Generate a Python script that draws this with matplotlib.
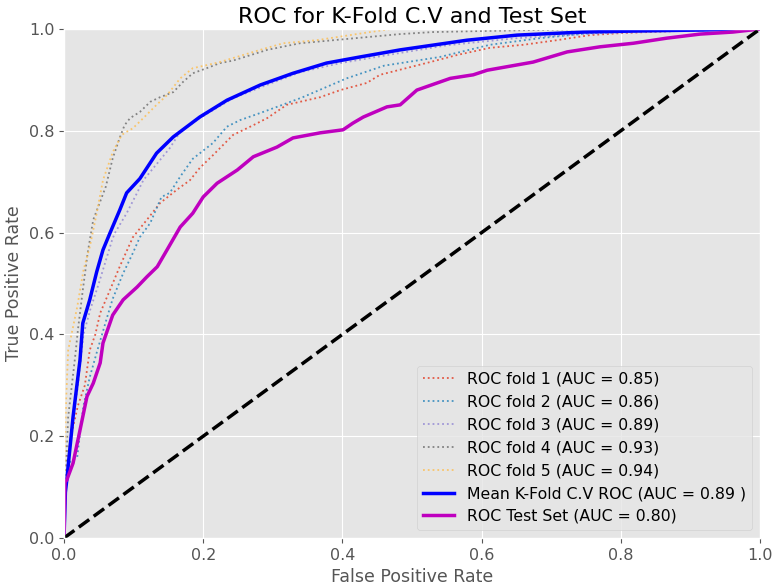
import matplotlib
matplotlib.use("Agg")
import matplotlib.pyplot as plt

plt.style.use("ggplot")

# Fold 1
f1_fpr = [0, 0.001, 0.006, 0.013, 0.020, 0.030, 0.033, 0.037, 0.045, 0.052, 0.066, 0.080, 0.099, 0.119,
          0.138, 0.162, 0.181, 0.195, 0.214, 0.243, 0.272, 0.292, 0.320, 0.368, 0.397, 0.435, 0.454,
          0.526, 0.565, 0.612, 0.660, 0.708, 0.756, 0.800, 0.900, 1.0]
f1_tpr = [0, 0.05, 0.167, 0.218, 0.26, 0.30, 0.33, 0.369, 0.40, 0.442, 0.487, 0.533, 0.591, 0.625,
          0.658, 0.684, 0.703, 0.727, 0.752, 0.792, 0.811, 0.825, 0.851, 0.866, 0.880, 0.894, 0.910,
          0.935, 0.949, 0.963, 0.969, 0.978, 0.988, 0.992, 0.997, 1.0]
# Fold 2
f2_fpr = [0, 0.001, 0.006, 0.019, 0.023, 0.028, 0.037, 0.048, 0.062, 0.070, 0.085, 0.099, 0.109, 0.124,
          0.140, 0.152, 0.167, 0.185, 0.214, 0.234, 0.253, 0.282, 0.306, 0.343, 0.377, 0.406, 0.460,
          0.540, 0.612, 0.684, 0.756, 0.850, 1.0]
f2_tpr = [0, 0.08, 0.147, 0.159, 0.206, 0.26, 0.316, 0.369, 0.434, 0.47, 0.520, 0.560, 0.591, 0.619,
          0.670, 0.678, 0.71, 0.745, 0.776, 0.808, 0.821, 0.835, 0.847, 0.866, 0.886, 0.903, 0.928,
          0.945, 0.969, 0.982, 0.992, 0.996, 1.0]
# Fold 3
f3_fpr = [0, 0.001, 0.010, 0.020, 0.028, 0.038, 0.050, 0.069, 0.073, 0.090, 0.105, 0.114, 0.140, 0.152,
          0.167, 0.195, 0.243, 0.291, 0.339, 0.397, 0.470, 0.550, 0.650, 0.750, 0.850, 1.0]
f3_tpr = [0, 0.10, 0.20, 0.30, 0.40, 0.45, 0.50, 0.585, 0.599, 0.638, 0.678, 0.703, 0.746, 0.766,
          0.798, 0.825, 0.864, 0.890, 0.915, 0.933, 0.950, 0.968, 0.982, 0.990, 0.995, 1.0]
# Fold 4
f4_fpr = [0, 0.001, 0.004, 0.006, 0.016, 0.020, 0.027, 0.034, 0.042, 0.060, 0.070, 0.080, 0.087, 0.095,
          0.109, 0.124, 0.138, 0.157, 0.171, 0.185, 0.205, 0.224, 0.243, 0.292, 0.339, 0.387, 0.435,
          0.483, 0.530, 0.600, 0.750, 1.0]
f4_tpr = [0, 0.10, 0.173, 0.238, 0.356, 0.409, 0.487, 0.560, 0.625, 0.69, 0.746, 0.786, 0.811, 0.825,
          0.837, 0.857, 0.866, 0.876, 0.896, 0.913, 0.923, 0.933, 0.938, 0.959, 0.972, 0.978, 0.984,
          0.990, 0.994, 0.996, 1.0, 1.0]
# Fold 5
f5_fpr = [0, 0.001, 0.003, 0.006, 0.019, 0.028, 0.037, 0.047, 0.056, 0.070, 0.083, 0.090, 0.099, 0.114,
          0.133, 0.148, 0.167, 0.185, 0.205, 0.224, 0.243, 0.282, 0.315, 0.363, 0.411, 0.440, 0.470, 1.0]
f5_tpr = [0, 0.15, 0.27, 0.369, 0.454, 0.526, 0.572, 0.638, 0.703, 0.758, 0.792, 0.798, 0.805, 0.825,
          0.851, 0.870, 0.903, 0.923, 0.929, 0.935, 0.943, 0.959, 0.972, 0.978, 0.988, 0.994, 1.0, 1.0]
fold_aucs = [0.85, 0.86, 0.89, 0.93, 0.94]

# Mean ROC
mean_fpr = [0, 0.002, 0.004, 0.013, 0.023, 0.027, 0.037, 0.047, 0.056, 0.066, 0.080, 0.090, 0.109, 0.133,
            0.157, 0.195, 0.234, 0.282, 0.329, 0.377, 0.425, 0.483, 0.579, 0.651, 0.746, 0.818, 0.914, 1.0]
mean_tpr = [0, 0.09, 0.114, 0.238, 0.35, 0.422, 0.468, 0.523, 0.566, 0.599, 0.644, 0.678, 0.706, 0.756,
            0.788, 0.827, 0.860, 0.890, 0.913, 0.933, 0.945, 0.959, 0.978, 0.988, 0.994, 0.996, 0.998, 1.0]
mean_auc = 0.89

# Test set ROC
test_fpr = [0, 0.0014, 0.004, 0.013, 0.023, 0.033, 0.042, 0.052, 0.056, 0.070, 0.085, 0.105, 0.119, 0.134,
            0.148, 0.167, 0.185, 0.200, 0.220, 0.249, 0.272, 0.306, 0.329, 0.368, 0.401, 0.415, 0.430,
            0.464, 0.483, 0.507, 0.555, 0.588, 0.608, 0.674, 0.723, 0.770, 0.818, 0.866, 0.914, 0.961, 1.0]
test_tpr = [0, 0.11, 0.114, 0.147, 0.212, 0.278, 0.304, 0.344, 0.383, 0.438, 0.468, 0.493, 0.513, 0.533,
            0.566, 0.611, 0.638, 0.670, 0.697, 0.723, 0.749, 0.768, 0.786, 0.796, 0.802, 0.815, 0.827,
            0.847, 0.851, 0.880, 0.903, 0.910, 0.919, 0.935, 0.955, 0.965, 0.972, 0.982, 0.990, 0.994, 1.0]
test_auc = 0.80

fig = plt.figure(figsize=(7.74, 5.88), dpi=100)
ax = fig.add_axes([64/774, 1-538/588, (760-64)/774, (538-29)/588])

folds = [(f1_fpr, f1_tpr), (f2_fpr, f2_tpr), (f3_fpr, f3_tpr), (f4_fpr, f4_tpr), (f5_fpr, f5_tpr)]
for i, ((fx, fy), a) in enumerate(zip(folds, fold_aucs)):
    ax.plot(fx, fy, linestyle=':', lw=1.3, alpha=0.9,
            label='ROC fold %d (AUC = %0.2f)' % (i + 1, a))

ax.plot(mean_fpr, mean_tpr, color='b', lw=2.5,
        label='Mean K-Fold C.V ROC (AUC = %0.2f )' % mean_auc)
ax.plot(test_fpr, test_tpr, color='m', lw=2.5,
        label='ROC Test Set (AUC = %0.2f)' % test_auc)
ax.plot([0, 1], [0, 1], 'k--', lw=2.5)

ax.set_xlim(0, 1)
ax.set_ylim(0, 1)
ax.set_xlabel('False Positive Rate', fontsize=12.5, labelpad=4)
ax.set_ylabel('True Positive Rate', fontsize=12.5, labelpad=4)
ax.set_title('ROC for K-Fold C.V and Test Set', fontsize=16, pad=4)
ax.tick_params(labelsize=11.5)
ax.legend(loc='lower right', fontsize=11.3)

fig.savefig('out.png', dpi=100)
